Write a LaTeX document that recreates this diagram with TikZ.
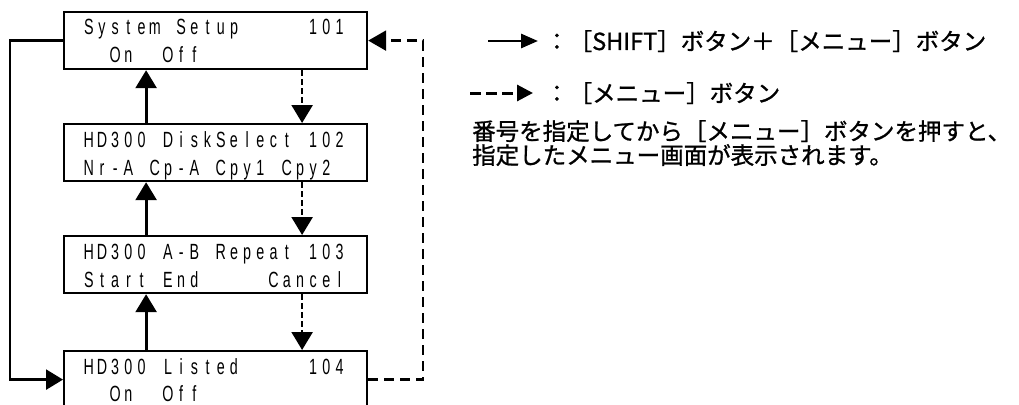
\documentclass[tikz,border=0pt]{standalone}
\usepackage{fontspec}
\usetikzlibrary{arrows.meta}
\newfontfamily\lcdfont[FakeStretch=0.65]{Liberation Sans}
\newfontfamily\jpfont[FakeBold=1]{Noto Sans CJK JP}
% one fixed cell for each character of the display, ~ for a blank cell
\makeatletter
\newcommand\lcd[1]{\@tfor\lcd@c:=#1\do{\makebox[13.2pt][c]{\lcd@c}}}
\makeatother
\tikzset{
  screen/.style={draw, line width=2.2pt, minimum width=303pt, minimum height=57pt,
    inner sep=0pt, anchor=north west},
  lcdrow/.style={anchor=base west, inner sep=0pt,
    font=\lcdfont\fontsize{22}{22}\selectfont},
  shiftarrow/.style={line width=2.8pt, -{Triangle[width=21pt,length=18pt]}},
  menuarrow/.style={line width=2.4pt, dash pattern=on 6pt off 3pt,
    -{Triangle[width=21pt,length=18pt]}},
  shiftloop/.style={line width=2.4pt, -{Triangle[width=20pt,length=17pt]}},
  menuloop/.style={line width=2.4pt, dash pattern=on 10pt off 6pt,
    -{Triangle[width=20pt,length=18pt]}},
  note/.style={anchor=base west, inner sep=0pt,
    font=\jpfont\fontsize{23.5}{23.5}\selectfont},
}
\begin{document}
\begin{tikzpicture}[x=1pt, y=-1pt]
  \clip (0,0) rectangle (1019,404);
  % the four menu screens
  \node[screen] (setup) at (63,11) {};
  \node[screen] (disk) at (63,123) {};
  \node[screen] (abrepeat) at (63,235) {};
  \node[screen] (listed) at (63,350) {};
  \node[lcdrow] (setup1) at (82,35) {\lcd{System~Setup~~~~~101}};
  \node[lcdrow] (setup2) at (82,63) {\lcd{~~On~~Off}};
  \node[lcdrow] (disk1) at (82,147) {\lcd{HD300~DiskSelect~102}};
  \node[lcdrow] (disk2) at (82,175) {\lcd{Nr-A~Cp-A~Cpy1~Cpy2}};
  \node[lcdrow] (abrepeat1) at (82,259) {\lcd{HD300~A-B~Repeat~103}};
  \node[lcdrow] (abrepeat2) at (82,287) {\lcd{Start~End~~~~~Cancel}};
  \node[lcdrow] (listed1) at (82,374) {\lcd{HD300~Listed~~~~~104}};
  \node[lcdrow] (listed2) at (82,401) {\lcd{~~On~~Off}};
  % up and down between neighbours
  \foreach \a/\b in {setup/disk, disk/abrepeat, abrepeat/listed} {
    \draw[shiftarrow] ([xshift=-69.5pt]\b.north) -- ([xshift=-69.5pt]\a.south);
    \draw[menuarrow] ([xshift=86.5pt]\a.south) -- ([xshift=86.5pt]\b.north);
  }
  % wrap round
  \draw[shiftloop] (setup.west) -- ++(-53,0) |- (listed.west);
  \draw[menuloop] (listed.east) -- ++(55,0) |- (setup.east);
  % key
  \coordinate (key1a) at (488,41);
  \coordinate (key1b) at (538,41);
  \coordinate (key2a) at (470,93);
  \coordinate (key2b) at (533,93);
  \draw[line width=2.8pt, -{Triangle[width=14pt,length=17pt]}] (key1a) -- (key1b);
  \draw[line width=3pt, dash pattern=on 11pt off 5pt,
    -{Triangle[width=16pt,length=16pt]}] (key2a) -- (key2b);
  \node[note] (key1) at (545,50) {：［SHIFT］ボタン＋［メニュー］ボタン};
  \node[note] (key2) at (545,102) {：［メニュー］ボタン};
  \node[note] (hint1) at (472,140) {番号を指定してから［メニュー］ボタンを押すと、};
  \node[note] (hint2) at (472,164) {指定したメニュー画面が表示されます。};
\end{tikzpicture}
\end{document}
